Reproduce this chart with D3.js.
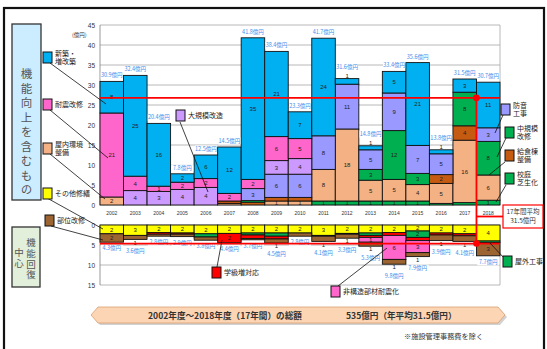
<!DOCTYPE html>
<html><head><meta charset="utf-8">
<script src="https://cdn.jsdelivr.net/npm/d3@7"></script>
<style>
html,body{margin:0;padding:0;background:#fff;}
svg{display:block;font-family:"Noto Sans CJK JP","Noto Sans",sans-serif;}
.vert{writing-mode:vertical-rl;}
</style></head><body>
<svg id="chart" width="547" height="349"></svg>
<script>
// 年度
const years = ["2002","2003","2004","2005","2006","2007","2008","2009","2010","2011","2012","2013","2014","2015","2016","2017","2018"];

// 機能向上を含むもの（億円）— stacked from the bottom up
const shibafu   = [0,0,0,0,0,0,0,0,0,1.0,1.0,1.0,1.0,1.0,0.4,0.6,1.2];          // 校庭芝生化
const okunai    = [2.0,0,0,0,0,0.4,0,1.0,1.0,7.9,18.0,5.2,5.4,4.1,5.0,15.6,6.3]; // 屋内環境整備
const kyushoku  = [0,0,0,0,0,0.6,0.7,0.9,0.9,0,0,0,0,0,2.2,3.6,0];               // 給食棟整備
const chukibo   = [0,0,0,0,0,0,0.4,0,0,0,0,2.7,12.2,2.8,0,8.4,8.4];              // 中規模改修
const boon      = [0,0,0,0,0,0,3.0,5.8,5.8,8.4,11.2,4.9,9.4,7.0,5.2,0,3.4];      // 防音工事
const daikibo   = [0,3.6,3.4,3.9,4.4,0,0,3.4,3.9,0,0,0,0,0,0,0,0];               // 大規模改造
const taishin   = [21.0,3.6,1.3,1.8,2.2,1.9,2.3,6.0,5.0,0,0,0,0,0,0,0,0];        // 耐震改修
const shinchiku = [7.9,25.2,15.7,2.1,5.9,11.6,35.4,21.3,6.7,24.4,1.4,1.0,5.4,20.7,1.0,3.3,11.4]; // 新築・増改築

// 機能回復中心（億円）— stacked downward from zero
const sonota    = [2.2,2.6,1.9,2.0,2.2,2.1,2.0,2.0,2.0,2.6,2.1,2.0,1.9,1.5,2.0,2.2,4.0]; // その他修繕
const okugai    = [0,0,0,0,0.8,0,0.5,0.8,0,0,0,0.6,0,1.6,0,0,0.4];               // 屋外工事
const gakkyu    = [0,0,0.4,0.3,0,2.3,0.9,0.7,0,0.2,0.2,0.5,0.7,0.8,0.5,0.5,0];   // 学級増対応
const hikozo    = [0,0,0,0,0,0,0,0,0,0,0,1.2,6.0,3.0,0,0,0];                     // 非構造部材耐震化
const bui       = [2.1,1.0,0.5,0.6,0.8,0,0.3,1.0,0.8,1.3,1.0,1.0,1.2,1.0,1.4,1.4,3.3]; // 部位改修

const upperTicks = [0,5,10,15,20,25,30,35,40,45];
const lowerTicks = [0,5,10,15];

const upperKeys = ["校庭芝生化","屋内環境整備","給食棟整備","中規模改修","防音工事","大規模改造","耐震改修","新築・増改築"];
const upperVals = [shibafu, okunai, kyushoku, chukibo, boon, daikibo, taishin, shinchiku];
const lowerKeys = ["その他修繕","屋外工事","学級増対応","非構造部材耐震化","部位改修"];
const lowerVals = [sonota, okugai, gakkyu, hikozo, bui];

const color = d3.scaleOrdinal()
  .domain([...upperKeys, ...lowerKeys])
  .range(["#00B050","#F4B183","#C55A11","#00B050","#9999FF","#CC99FF","#FF66CC","#00B0F0",
          "#FFFF00","#00B050","#FF0000","#FF66CC","#9C6430"]);

const rowsOf = (keys, vals) => years.map((y, i) => {
  const r = {year: y};
  keys.forEach((k, j) => r[k] = vals[j][i]);
  return r;
});
const upperRows = rowsOf(upperKeys, upperVals);
const lowerRows = rowsOf(lowerKeys, lowerVals);
const upperStack = d3.stack().keys(upperKeys)(upperRows);
const lowerStack = d3.stack().keys(lowerKeys)(lowerRows);
const upperTotals = upperRows.map(r => d3.sum(upperKeys, k => r[k]));
const lowerTotals = lowerRows.map(r => d3.sum(lowerKeys, k => r[k]));

const svg = d3.select("#chart");
const x = d3.scaleBand().domain(years).range([100, 500]).padding(0);
const yU = d3.scaleLinear().domain([0, 45]).range([205, 25]);
const yL = d3.scaleLinear().domain([0, 15]).range([225, 285]);
const fmtInt = d3.format(".0f");
const fmtTot = d3.format(".1f");
const BLUE = "#3C8DEB";

// outer frame
svg.append("rect").attr("x", 4).attr("y", 8).attr("width", 540).attr("height", 360)
  .attr("fill", "none").attr("stroke", "#111").attr("stroke-width", 2.2);

// ---- gridlines & frame of both plots
function grid(yScale, ticks, y0, y1) {
  const g = svg.append("g");
  g.selectAll("line.h").data(ticks).join("line")
    .attr("x1", 100).attr("x2", 500)
    .attr("y1", d => yScale(d)).attr("y2", d => yScale(d))
    .attr("stroke", "#A6A6A6").attr("stroke-width", 0.8);
  g.append("line").attr("x1", 500).attr("x2", 500).attr("y1", y0).attr("y2", y1)
    .attr("stroke", "#A6A6A6").attr("stroke-width", 0.8);
  g.append("line").attr("x1", 100).attr("x2", 100).attr("y1", y0).attr("y2", y1)
    .attr("stroke", "#7F7F7F").attr("stroke-width", 0.8);
  const ax = g.append("g").attr("transform", "translate(100,0)")
    .call(d3.axisLeft(yScale).tickValues(ticks).tickSize(0).tickPadding(5));
  ax.select(".domain").remove();
  ax.selectAll("text").attr("font-size", 6.5).attr("fill", "#333")
    .attr("font-family", "Liberation Sans, Arial, sans-serif");
}
grid(yU, upperTicks, 25, 205);
grid(yL, lowerTicks, 225, 285);

svg.append("text").attr("x", 72).attr("y", 37).attr("font-size", 5.5).attr("fill", "#333").text("(億円)");

// ---- stacked bars
function drawStack(stack, yScale) {
  const g = svg.append("g");
  stack.forEach(layer => {
    layer.forEach((d, i) => {
      const v = d[1] - d[0];
      if (v <= 0) return;
      const ya = yScale(d[0]), yb = yScale(d[1]);
      g.append("rect")
        .attr("x", x(years[i])).attr("width", x.bandwidth())
        .attr("y", Math.min(ya, yb)).attr("height", Math.abs(ya - yb))
        .attr("fill", color(layer.key)).attr("stroke", "#111").attr("stroke-width", 0.9);
    });
  });
}
drawStack(upperStack, yU);
drawStack(lowerStack, yL);

// ---- value labels
function labels(stack, yScale, totals, rows, keys, isUpper) {
  const g = svg.append("g").attr("font-size", 6).attr("fill", "#222").attr("text-anchor", "middle")
    .attr("font-family", "Liberation Sans, Arial, sans-serif");
  const outer = new Array(years.length).fill(false);
  stack.forEach(layer => {
    layer.forEach((d, i) => {
      const v = d[1] - d[0];
      if (v < 0.95) return;
      const ya = yScale(d[0]), yb = yScale(d[1]);
      const h = Math.abs(ya - yb);
      // a thin outermost segment gets its label just outside the bar
      const lastKey = keys.filter(k => rows[i][k] > 0).pop();
      let cy = (ya + yb) / 2;
      if (layer.key === lastKey && h < 6) {
        outer[i] = true;
        cy = isUpper ? yb - 3 : yb + 3;
      }
      g.append("text").attr("x", x(years[i]) + x.bandwidth() / 2).attr("y", cy)
        .attr("dy", "0.35em").text(fmtInt(v));
    });
  });
  const tg = svg.append("g").attr("font-size", 5.5).attr("fill", BLUE).attr("text-anchor", "middle");
  totals.forEach((t, i) => {
    const edge = yScale(t);
    const cy = isUpper ? edge - (outer[i] ? 11.5 : 6) : edge + (outer[i] ? 11.5 : 6);
    const cx = x(years[i]) + x.bandwidth() / 2;
    tg.append("rect").attr("x", cx - 11).attr("y", cy - 3.5).attr("width", 22).attr("height", 7).attr("fill", "#fff");
    tg.append("text").attr("x", cx).attr("y", cy).attr("dy", "0.35em").text(fmtTot(t) + "億円");
  });
}
labels(upperStack, yU, upperTotals, upperRows, upperKeys, true);
labels(lowerStack, yL, lowerTotals, lowerRows, lowerKeys, false);

// year labels
svg.append("g").selectAll("text").data(years).join("text")
  .attr("x", d => x(d) + x.bandwidth() / 2).attr("y", 213).attr("dy", "0.35em")
  .attr("text-anchor", "middle").attr("font-size", 5).attr("fill", "#333")
  .attr("font-family", "Liberation Sans, Arial, sans-serif").text(d => d);

// ---- average lines
const avgU = d3.mean(upperTotals), avgL = d3.mean(lowerTotals);
const RED = "#FF0000";
const xr = x("2018");
svg.append("line").attr("x1", 100).attr("x2", 500).attr("y1", yU(avgU)).attr("y2", yU(avgU))
  .attr("stroke", RED).attr("stroke-width", 1.8);
svg.append("line").attr("x1", 100).attr("x2", 500).attr("y1", yL(avgL)).attr("y2", yL(avgL))
  .attr("stroke", RED).attr("stroke-width", 1.8);
svg.append("line").attr("x1", xr).attr("x2", xr).attr("y1", yU(avgU)).attr("y2", yL(avgL))
  .attr("stroke", RED).attr("stroke-width", 1.8);
svg.append("line").attr("x1", xr).attr("x2", 503).attr("y1", 216.5).attr("y2", 216.5)
  .attr("stroke", RED).attr("stroke-width", 1.8);
svg.append("circle").attr("cx", xr).attr("cy", yU(avgU)).attr("r", 3.3).attr("fill", RED);
svg.append("circle").attr("cx", xr).attr("cy", yL(avgL)).attr("r", 3.3).attr("fill", RED);

svg.append("rect").attr("x", 503).attr("y", 205).attr("width", 40).attr("height", 23)
  .attr("fill", "#fff").attr("stroke", RED).attr("stroke-width", 1.2);
svg.append("text").attr("x", 523).attr("y", 213.5).attr("text-anchor", "middle")
  .attr("font-size", 6.5).attr("fill", "#333").text("17年間平均");
svg.append("text").attr("x", 523).attr("y", 223).attr("text-anchor", "middle")
  .attr("font-size", 6.5).attr("fill", "#333").text("31.5億円");

// ---- category boxes on the left (vertical writing)
svg.append("rect").attr("x", 12).attr("y", 24).attr("width", 29).attr("height", 176)
  .attr("fill", "#CCECFF").attr("stroke", "#333").attr("stroke-width", 1.3);
svg.append("text").attr("class", "vert").attr("x", 26.5).attr("y", 68)
  .attr("font-size", 11.5).attr("letter-spacing", 3).attr("fill", "#555").text("機能向上を含むもの");

svg.append("rect").attr("x", 12).attr("y", 227).attr("width", 28).attr("height", 60)
  .attr("fill", "#E2EFDA").attr("stroke", "#333").attr("stroke-width", 1.3);
svg.append("text").attr("class", "vert").attr("x", 31).attr("y", 238)
  .attr("font-size", 9.5).attr("letter-spacing", 1.2).attr("fill", "#555").text("機能回復");
svg.append("text").attr("class", "vert").attr("x", 19).attr("y", 248)
  .attr("font-size", 9.5).attr("letter-spacing", 1.2).attr("fill", "#555").text("中心");

// ---- legend swatches with leader lines
const legend = [
  {key: "新築・増改築", lines: ["新築・", "増改築"], sx: 43, sy: 52, from: [50, 63], to: [106, 104]},
  {key: "耐震改修", lines: ["耐震改修"], sx: 43, sy: 99, from: [50, 110], to: [108, 158]},
  {key: "屋内環境整備", lines: ["屋内環境", "整備"], sx: 43, sy: 143, from: [50, 154], to: [105, 199]},
  {key: "その他修繕", lines: ["その他修繕"], sx: 43, sy: 188, from: [47, 198], to: [103, 229]},
  {key: "部位改修", lines: ["部位改修"], sx: 45, sy: 215, from: [51, 226], to: [103, 240]},
  {key: "大規模改造", lines: ["大規模改造"], sx: 176, sy: 110, from: [180, 122], to: [208, 192]},
  {key: "学級増対応", lines: ["学級増対応"], sx: 212, sy: 267, from: [217, 267], to: [222, 240]},
  {key: "非構造部材耐震化", lines: ["非構造部材耐震化"], sx: 331, sy: 286, from: [338, 286], to: [387, 248]},
  {key: "防音工事", lines: ["防音", "工事"], sx: 501, sy: 104, from: [503, 115], to: [495, 133]},
  {key: "中規模改修", lines: ["中規模", "改修"], sx: 505, sy: 127, from: [506, 138], to: [497, 157]},
  {key: "給食棟整備", lines: ["給食棟", "整備"], sx: 505, sy: 150, from: [505, 162], to: [489, 175]},
  {key: "校庭芝生化", lines: ["校庭", "芝生化"], sx: 505, sy: 173, from: [506, 185], to: [496, 202]},
  {key: "屋外工事", lines: ["屋外工事"], sx: 503, sy: 256, from: [504, 258], to: [490, 243]}
];
const lg = svg.append("g");
legend.forEach(l => {
  lg.append("line").attr("x1", l.from[0]).attr("y1", l.from[1]).attr("x2", l.to[0]).attr("y2", l.to[1])
    .attr("stroke", "#111").attr("stroke-width", 0.8);
  lg.append("rect").attr("x", l.sx).attr("y", l.sy).attr("width", 9).attr("height", 11)
    .attr("fill", color(l.key)).attr("stroke", "#111").attr("stroke-width", 1);
  const n = l.lines.length;
  l.lines.forEach((t, j) => {
    lg.append("text").attr("x", l.sx + 12).attr("y", l.sy + 5.5 + (j - (n - 1) / 2) * 8.5).attr("dy", "0.35em")
      .attr("font-size", 7).attr("fill", "#222").text(t);
  });
});

// ---- summary banner
svg.append("polygon").attr("points", "93,317 100,309 500,309 507,317 500,325 100,325")
  .attr("fill", "#BFBFBF").attr("opacity", 0.7);
svg.append("polygon").attr("points", "91,315 98,307 498,307 505,315 498,323 98,323")
  .attr("fill", "#FCD5B4").attr("stroke", "#D9A070").attr("stroke-width", 0.8);
svg.append("text").attr("x", 148).attr("y", 318.5).attr("font-size", 8.6).attr("font-weight", 600)
  .attr("fill", "#333").text("2002年度～2018年度（17年間）の総額");
svg.append("text").attr("x", 346).attr("y", 318.5).attr("font-size", 8.6).attr("font-weight", 600)
  .attr("fill", "#333").text("535億円（年平均31.5億円）");
svg.append("text").attr("x", 404).attr("y", 339).attr("font-size", 7.2)
  .attr("fill", "#333").text("※施設管理事務費を除く");
</script>
</body></html>
